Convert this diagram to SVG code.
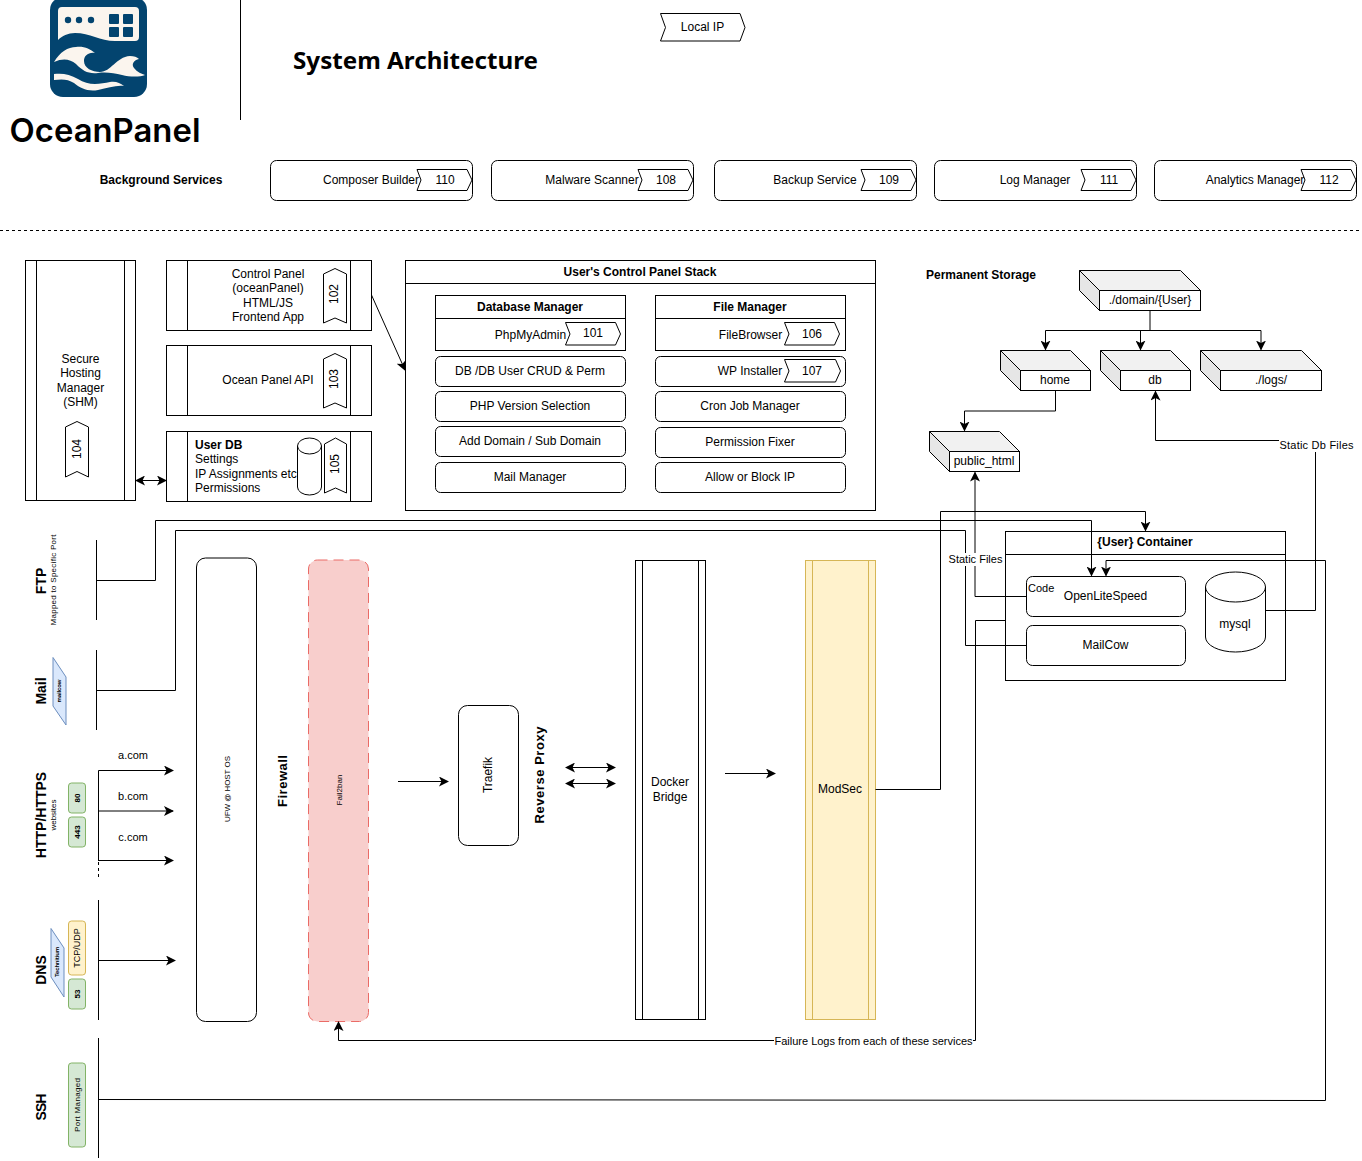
<svg xmlns="http://www.w3.org/2000/svg" width="1362" height="1161" viewBox="0 0 1362 1161">
<style>
text{font-family:"Liberation Sans",Arial,sans-serif;font-size:12px;fill:#000;text-anchor:middle}
.b{font-weight:bold}.s{text-anchor:start}
.n{fill:#fff;stroke:#000;stroke-width:1}
.l{fill:none;stroke:#000;stroke-width:1}
.top{fill:#f1f1f1;stroke:#000}.side{fill:#e6e6e6;stroke:#000}
.blue{fill:#dae8fc;stroke:#6c8ebf}.green{fill:#d5e8d4;stroke:#82b366}.yellow{fill:#fff2cc;stroke:#d6b656}
.lab{fill:#fff;stroke:none}
</style>
<defs>
<marker id="a" viewBox="0 0 10 10" refX="9" refY="5" markerWidth="10" markerHeight="10" orient="auto" markerUnits="userSpaceOnUse"><path d="M0,0 L10,5 L0,10 L2.5,5 Z" fill="#000"/></marker>
<marker id="as" viewBox="0 0 10 10" refX="1" refY="5" markerWidth="10" markerHeight="10" orient="auto" markerUnits="userSpaceOnUse"><path d="M10,0 L0,5 L10,10 L7.5,5 Z" fill="#000"/></marker>
</defs>

<g id="logo">
<rect x="50" y="-3" width="97" height="100" rx="13" fill="#03446f"/>
<path d="M62,7H135Q139,7 139,11V37Q139,41 135,41H115C100,41 90,33 75,33C68,33 62,36 58,40V11Q58,7 62,7Z" fill="#fbf5ee"/>
<circle cx="68" cy="20" r="3.200" fill="#03446f"/><circle cx="79" cy="20" r="3.200" fill="#03446f"/><circle cx="91" cy="20" r="3.200" fill="#03446f"/>
<rect x="109" y="14" width="10" height="10" rx="1" fill="#03446f"/><rect x="123" y="14" width="10" height="10" rx="1" fill="#03446f"/><rect x="109" y="27" width="10" height="10" rx="1" fill="#03446f"/><rect x="123" y="27" width="10" height="10" rx="1" fill="#03446f"/>
<path d="M54,62C60,52 68,47 76,47C84,46 90,49 95,53C88,52 84,56 84,61C84,68 92,72 100,72C111,72 116,57 130,56C134,56 137,57 139,59C134,60 131,64 134,68C137,72 142,74 145,75C140,77 130,77 122,75C114,73 106,72 98,73C88,74 83,71 76,64C70,59 63,58 54,62Z" fill="#fbf5ee"/>
<path d="M54,74C62,73 70,74 78,79C88,86 100,84 110,82C116,81 120,83 124,86C116,85 108,88 98,90C88,92 80,88 74,83C68,79 62,79 54,80Z" fill="#fbf5ee"/>
<text x="105" y="142" style="font-family:Inter,'Liberation Sans',sans-serif;font-size:33px;font-weight:600" textLength="191" lengthAdjust="spacingAndGlyphs">OceanPanel</text>
</g>

<g id="header">
<line class="l" x1="240.500" y1="0" x2="240.500" y2="120"/>
<text x="415.500" y="69" class="b" style="font-family:'Noto Sans','Open Sans',sans-serif;font-size:24px" textLength="245" lengthAdjust="spacingAndGlyphs">System Architecture</text>
</g>
<g id="local-ip"><path class="n" d="M660.500,13.500H740L745,27.500L740,41H660.500L665.500,27.500Z"/><text x="702.500" y="31">Local IP</text></g>

<text x="161" y="184" class="b">Background Services</text>
<g id="n110"><rect class="n" x="270.500" y="160.500" width="202" height="40" rx="6"/><text x="371" y="184">Composer Builder</text><path class="n" d="M417,169.500H467L472,180L467,190.500H417L421,180Z"/><text x="445" y="184">110</text></g>
<g id="n108"><rect class="n" x="491.500" y="160.500" width="202" height="40" rx="6"/><text x="592" y="184">Malware Scanner</text><path class="n" d="M638,169.500H688L693,180L688,190.500H638L642,180Z"/><text x="666" y="184">108</text></g>
<g id="n109"><rect class="n" x="714.500" y="160.500" width="202" height="40" rx="6"/><text x="815" y="184">Backup Service</text><path class="n" d="M861,169.500H911L916,180L911,190.500H861L865,180Z"/><text x="889" y="184">109</text></g>
<g id="n111"><rect class="n" x="934.500" y="160.500" width="202" height="40" rx="6"/><text x="1035" y="184">Log Manager</text><path class="n" d="M1081,169.500H1131L1136,180L1131,190.500H1081L1085,180Z"/><text x="1109" y="184">111</text></g>
<g id="n112"><rect class="n" x="1154.500" y="160.500" width="202" height="40" rx="6"/><text x="1255" y="184">Analytics Manager</text><path class="n" d="M1301,169.500H1351L1356,180L1351,190.500H1301L1305,180Z"/><text x="1329" y="184">112</text></g>

<line x1="0" y1="230.500" x2="1362" y2="230.500" stroke="#000" stroke-dasharray="3 3"/>

<g id="shm"><rect class="n" x="25.500" y="260.500" width="110" height="240"/><path class="l" d="M36.500,260.500V500.500M124.500,260.500V500.500"/>
<text x="80.500" y="363">Secure</text><text x="80.500" y="377">Hosting</text><text x="80.500" y="392">Manager</text><text x="80.500" y="406">(SHM)</text>
<path class="n" d="M65.500,427L77,421.500L88.500,427V477L77,471.500L65.500,477Z"/><text transform="translate(81,449) rotate(-90)">104</text></g>

<g id="control-panel"><rect class="n" x="166.500" y="260.500" width="205" height="70"/><path class="l" d="M187.500,260.500V330.500M350.500,260.500V330.500"/>
<text x="268" y="278">Control Panel</text><text x="268" y="292">(oceanPanel)</text><text x="268" y="307">HTML/JS</text><text x="268" y="321">Frontend App</text>
<path class="n" d="M323.500,274L335,268.500L346.500,274V323L335,318L323.500,323Z"/><text transform="translate(338,294) rotate(-90)">102</text></g>
<g id="api"><rect class="n" x="166.500" y="345.500" width="205" height="70"/><path class="l" d="M187.500,345.500V415.500M350.500,345.500V415.500"/>
<text x="268" y="384">Ocean Panel API</text>
<path class="n" d="M323.500,359L335,353.500L346.500,359V408L335,403L323.500,408Z"/><text transform="translate(338,379) rotate(-90)">103</text></g>
<g id="userdb"><rect class="n" x="166.500" y="431.500" width="205" height="70"/><path class="l" d="M187.500,431.500V501.500M350.500,431.500V501.500"/>
<text x="195" y="449" class="s b">User DB</text><text x="195" y="463" class="s">Settings</text><text x="195" y="478" class="s">IP Assignments etc</text><text x="195" y="492" class="s">Permissions</text>
<path class="n" d="M297.500,446A12,8 0 0 1 321.500,446V487A12,8 0 0 1 297.500,487Z"/><path class="l" d="M297.500,446A12,8 0 0 0 321.500,446"/>
<path class="n" d="M324.500,444L335.500,438L346.500,444V493L335.500,488L324.500,493Z"/><text transform="translate(339,464) rotate(-90)">105</text></g>

<g id="stack"><rect class="n" x="405.500" y="260.500" width="470" height="250"/><line class="l" x1="405.500" y1="283.500" x2="875.500" y2="283.500"/><text x="640" y="276" class="b">User's Control Panel Stack</text></g>
<g id="dbm"><rect class="n" x="435.500" y="295.500" width="190" height="55"/><line class="l" x1="435.500" y1="318.500" x2="625.500" y2="318.500"/><text x="530" y="311" class="b">Database Manager</text><text x="530.500" y="339">PhpMyAdmin</text><path class="n" d="M565.500,322.500H615.500L620.500,334L615.500,345H565.500L570,334Z"/><text x="593" y="337">101</text></g>
<g id="fm"><rect class="n" x="655.500" y="295.500" width="190" height="55"/><line class="l" x1="655.500" y1="318.500" x2="845.500" y2="318.500"/><text x="750" y="311" class="b">File Manager</text><text x="750.500" y="339">FileBrowser</text><path class="n" d="M784.500,322.500H834.500L839.500,334L834.500,345H784.500L789,334Z"/><text x="812" y="338">106</text></g>
<g id="crud"><rect class="n" x="435.500" y="356.500" width="190" height="30" rx="5"/><text x="530" y="375">DB /DB User CRUD &amp; Perm</text></g>
<g id="wp"><rect class="n" x="655.500" y="356.500" width="190" height="30" rx="5"/><text x="750" y="375">WP Installer</text><path class="n" d="M784.500,359.500H835.500L840.500,371L835.500,382H784.500L789,371Z"/><text x="812" y="375">107</text></g>
<g id="php"><rect class="n" x="435.500" y="391.500" width="190" height="30" rx="5"/><text x="530" y="410">PHP Version Selection</text></g>
<g id="cron"><rect class="n" x="655.500" y="391.500" width="190" height="30" rx="5"/><text x="750" y="410">Cron Job Manager</text></g>
<g id="domain"><rect class="n" x="435.500" y="426.500" width="190" height="30" rx="5"/><text x="530" y="445">Add Domain / Sub Domain</text></g>
<g id="perm"><rect class="n" x="655.500" y="427.500" width="190" height="30" rx="5"/><text x="750" y="446">Permission Fixer</text></g>
<g id="mail"><rect class="n" x="435.500" y="462.500" width="190" height="30" rx="5"/><text x="530" y="481">Mail Manager</text></g>
<g id="ip"><rect class="n" x="655.500" y="462.500" width="190" height="30" rx="5"/><text x="750" y="481">Allow or Block IP</text></g>

<text x="981" y="279" class="b">Permanent Storage</text>
<g id="s-domain"><path class="top" d="M1079.500,270.500H1180.500L1200.500,290.500H1099.500Z"/><path class="side" d="M1079.500,270.500L1099.500,290.500V310.500L1079.500,290.500Z"/><rect class="n" x="1099.500" y="290.500" width="101" height="20"/><text x="1150" y="304">./domain/{User}</text></g>
<g id="s-home"><path class="top" d="M1000.500,350.500H1070.500L1090.500,370.500H1020.500Z"/><path class="side" d="M1000.500,350.500L1020.500,370.500V390.500L1000.500,370.500Z"/><rect class="n" x="1020.500" y="370.500" width="70" height="20"/><text x="1055" y="384">home</text></g>
<g id="s-db"><path class="top" d="M1100.500,350.500H1170.500L1190.500,370.500H1120.500Z"/><path class="side" d="M1100.500,350.500L1120.500,370.500V390.500L1100.500,370.500Z"/><rect class="n" x="1120.500" y="370.500" width="70" height="20"/><text x="1155" y="384">db</text></g>
<g id="s-logs"><path class="top" d="M1200.500,350.500H1301.500L1321.500,370.500H1220.500Z"/><path class="side" d="M1200.500,350.500L1220.500,370.500V390.500L1200.500,370.500Z"/><rect class="n" x="1220.500" y="370.500" width="101" height="20"/><text x="1271" y="384">./logs/</text></g>
<g id="s-public"><path class="top" d="M929.500,431.500H999.500L1019.500,451.500H949.500Z"/><path class="side" d="M929.500,431.500L949.500,451.500V471.500L929.500,451.500Z"/><rect class="n" x="949.500" y="451.500" width="70" height="20"/><text x="984" y="465">public_html</text></g>

<g id="container"><rect class="n" x="1005.500" y="531.500" width="280" height="149"/><line class="l" x1="1005.500" y1="554.500" x2="1285.500" y2="554.500"/><text x="1145" y="546" class="b">{User} Container</text></g>
<g id="ols"><rect class="n" x="1026.500" y="576.500" width="159" height="40" rx="6"/><text x="1028" y="592" class="s" style="font-size:11px">Code</text><text x="1105.500" y="600">OpenLiteSpeed</text></g>
<g id="mailcow"><rect class="n" x="1026.500" y="625.500" width="159" height="40" rx="6"/><text x="1105.500" y="649">MailCow</text></g>
<g id="mysql"><path class="n" d="M1205.500,587A30,15 0 0 1 1265.500,587V637A30,15 0 0 1 1205.500,637Z"/><path class="l" d="M1205.500,587A30,15 0 0 0 1265.500,587"/><text x="1235" y="628">mysql</text></g>

<g id="ports">
<g transform="translate(41,581) rotate(-90)"><text class="b" style="font-size:14px" y="5">FTP</text></g>
<text transform="translate(56,580) rotate(-90)" style="font-size:8px" textLength="91">Mapped to Specific Port</text>
<g transform="translate(41,691) rotate(-90)"><text class="b" style="font-size:14px" y="5">Mail</text></g>
<path class="blue" d="M53,657.500L66,677V725L53,706Z"/><text transform="translate(61,691) rotate(-90)" class="b" style="font-size:6px" textLength="23">mailcow</text>
<g transform="translate(41,815) rotate(-90)"><text class="b" style="font-size:14px" y="5">HTTP/HTTPS</text></g>
<text transform="translate(56,815) rotate(-90)" style="font-size:8px" textLength="31">websites</text>
<rect class="green" x="68.500" y="783" width="17" height="30" rx="3"/><text transform="translate(80,798) rotate(-90)" class="b" style="font-size:8px">80</text>
<rect class="green" x="68.500" y="817" width="17" height="30" rx="3"/><text transform="translate(80,832) rotate(-90)" class="b" style="font-size:8px">443</text>
<g transform="translate(41,970) rotate(-90)"><text class="b" style="font-size:14px" y="5">DNS</text></g>
<path class="blue" d="M51,928.500L64,948V997L51,977Z"/><text transform="translate(59,962) rotate(-90)" class="b" style="font-size:6px" textLength="30">Technitium</text>
<rect class="yellow" x="68.500" y="921" width="17" height="54" rx="3"/><text transform="translate(80,948) rotate(-90)" style="font-size:9px">TCP/UDP</text>
<rect class="green" x="68.500" y="979" width="17" height="30" rx="3"/><text transform="translate(80,994) rotate(-90)" class="b" style="font-size:8px">53</text>
<g transform="translate(41,1107) rotate(-90)"><text class="b" style="font-size:14px" y="5" textLength="27">SSH</text></g>
<rect class="green" x="68.500" y="1063" width="17" height="84" rx="3"/><text transform="translate(80,1105) rotate(-90)" style="font-size:8px" textLength="54">Port Managed</text>
<text x="133" y="759" style="font-size:11px">a.com</text><text x="133" y="800" style="font-size:11px">b.com</text><text x="133" y="841" style="font-size:11px">c.com</text>
</g>

<g id="ufw"><rect class="n" x="196.500" y="558" width="60" height="463.500" rx="9"/><text transform="translate(230,789) rotate(-90)" style="font-size:8px" textLength="66">UFW @ HOST OS</text></g>
<text transform="translate(287,781) rotate(-90)" class="b" style="font-size:13px" textLength="52">Firewall</text>
<g id="fail2ban"><rect x="308.500" y="560" width="60" height="461.500" rx="9" fill="#f8cecc" stroke="#ea6b66" stroke-dasharray="10 6"/><text transform="translate(341.500,790) rotate(-90)" style="font-size:8px" textLength="31">Fail2ban</text></g>
<g id="traefik"><rect class="n" x="458.500" y="705.500" width="60" height="140" rx="9"/><text transform="translate(492,775) rotate(-90)">Traefik</text></g>
<text transform="translate(544,775) rotate(-90)" class="b" style="font-size:13px" textLength="97">Reverse Proxy</text>
<g id="docker"><rect class="n" x="635.500" y="560.500" width="70" height="459"/><path class="l" d="M642.500,560.500V1019.500M698.500,560.500V1019.500"/><text x="670" y="786">Docker</text><text x="670" y="801">Bridge</text></g>
<g id="modsec"><rect class="yellow" x="805.500" y="560.500" width="70" height="459"/><path fill="none" stroke="#d6b656" d="M812.500,560.500V1019.500M868.500,560.500V1019.500"/><text x="840" y="793">ModSec</text></g>

<g id="connectors">
<path class="l" d="M371.500,295L405,370" marker-end="url(#a)"/>
<path class="l" d="M136,480.500H166" marker-start="url(#as)" marker-end="url(#a)"/>
<path class="l" d="M1150,310.500V330.500H1045.500V349.500" marker-end="url(#a)"/>
<path class="l" d="M1150,330.500H1140.500V349.500" marker-end="url(#a)"/>
<path class="l" d="M1150,330.500H1261V349.500" marker-end="url(#a)"/>
<path class="l" d="M1055.500,390.500V411H964.500V430.500" marker-end="url(#a)"/>
<path class="l" d="M1026,596.500H975V472.500" marker-end="url(#a)"/>
<path class="l" d="M1266,610.500H1315.500V440.500H1155.500V391.500" marker-end="url(#a)"/>
<path class="l" d="M96.500,540V620M96.500,580.500H155.500V520.500H1091.500V575.500" marker-end="url(#a)"/>
<path class="l" d="M96.500,650V730M96.500,690.500H175.500V530.500H965.500V645.500H1026"/>
<path class="l" d="M875.500,789.500H940.500V511.500H1145.500V530.500" marker-end="url(#a)"/>
<path class="l" d="M1005,620.500H975.500V1040.500H338.500V1022" marker-end="url(#a)"/>
<path class="l" d="M98.500,1038V1158M98.500,1099.500L1325.500,1100.500V560.500H1106V575.500" marker-end="url(#a)"/>
<path class="l" d="M98.500,770.500V861"/>
<path class="l" d="M98.500,862V880" stroke-dasharray="3 3"/>
<path class="l" d="M98.500,770.500H173" marker-end="url(#a)"/>
<path class="l" d="M98.500,811H173" marker-end="url(#a)"/>
<path class="l" d="M98.500,860.500H173" marker-end="url(#a)"/>
<path class="l" d="M98.500,900V1020M98.500,960.500H175" marker-end="url(#a)"/>
<path class="l" d="M398,781.500H448" marker-end="url(#a)"/>
<path class="l" d="M725,773.500H775" marker-end="url(#a)"/>
<path class="l" d="M566,767.500H615" marker-start="url(#as)" marker-end="url(#a)"/>
<path class="l" d="M566,783.500H615" marker-start="url(#as)" marker-end="url(#a)"/>
<rect class="lab" x="947" y="553" width="56" height="13"/><text x="975.500" y="563" style="font-size:11px">Static Files</text>
<rect class="lab" x="1279" y="439" width="76" height="13"/><text x="1316.500" y="449" style="font-size:11px" textLength="74">Static Db  Files</text>
<rect class="lab" x="774" y="1035" width="199" height="12"/><text x="873.500" y="1045" style="font-size:11px">Failure Logs from each of these services</text>
</g>
</svg>
